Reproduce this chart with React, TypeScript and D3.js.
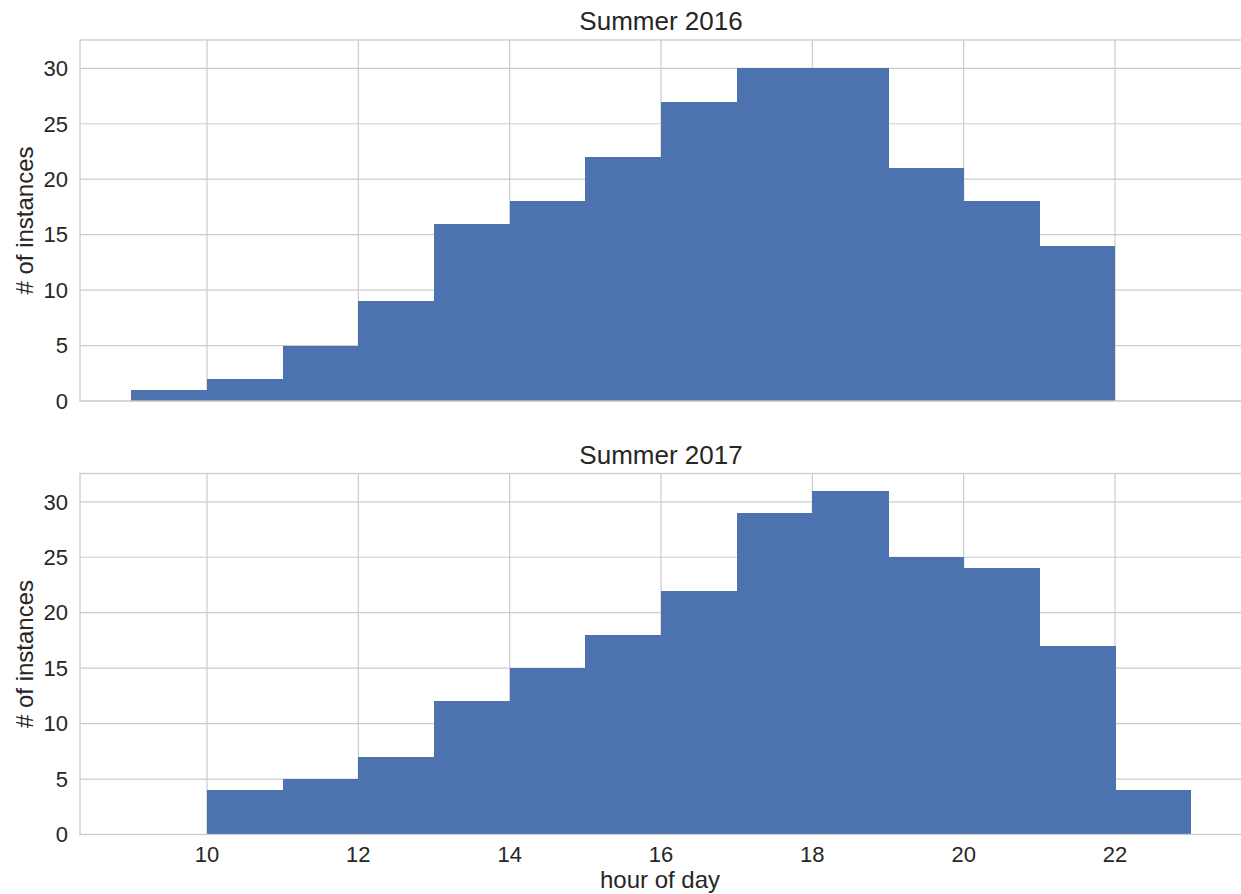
import React from "react";
import * as d3 from "d3";

const binStarts2016 = [9, 10, 11, 12, 13, 14, 15, 16, 17, 18, 19, 20, 21];
const counts2016 = [1, 2, 5, 9, 16, 18, 22, 27, 30, 30, 21, 18, 14];
const binStarts2017 = [10, 11, 12, 13, 14, 15, 16, 17, 18, 19, 20, 21, 22];
const counts2017 = [4, 5, 7, 12, 15, 18, 22, 29, 31, 25, 24, 17, 4];
const panelTitles = ["Summer 2016", "Summer 2017"];
const xTicks = [10, 12, 14, 16, 18, 20, 22];
const yTicks = [0, 5, 10, 15, 20, 25, 30];
const yLabel = "# of instances";
const xLabel = "hour of day";

const W = 1241;
const H = 894;
const left = 80;
const panelTops = [40, 473.5];
const panelH = 361;
const FONT = "'Liberation Sans', Arial, sans-serif";
const TEXT = "#262626";
const GRID = "#cccccc";
const BAR = "#4C72B0";

export default function App() {
  const x = d3.scaleLinear().domain([10, 22]).range([207, 1115]);
  const right = x(23.7);
  const yMax = 31 * 1.05;
  const panels = [
    { starts: binStarts2016, counts: counts2016 },
    { starts: binStarts2017, counts: counts2017 },
  ];
  return (
    <svg width={W} height={H} style={{ position: "absolute", left: 0, top: 0, background: "#fff" }}>
      {panels.map((p, pi) => {
        const top = panelTops[pi];
        const y = d3.scaleLinear().domain([0, yMax]).range([top + panelH, top]);
        return (
          <g key={pi}>
            {xTicks.map((t) => (
              <line key={"gx" + t} x1={x(t)} x2={x(t)} y1={top} y2={top + panelH} stroke={GRID} strokeWidth={1.2} />
            ))}
            {yTicks.map((t) => (
              <line key={"gy" + t} x1={left} x2={right} y1={y(t)} y2={y(t)} stroke={GRID} strokeWidth={1.2} />
            ))}
            <g shapeRendering="crispEdges">
              {p.starts.map((s, i) => (
                <rect
                  key={"b" + i}
                  x={x(s)}
                  width={x(s + 1) - x(s) + (i < p.starts.length - 1 ? 0.6 : 0)}
                  y={y(p.counts[i])}
                  height={y(0) - y(p.counts[i])}
                  fill={BAR}
                />
              ))}
            </g>
            <rect x={left} y={top} width={right - left} height={panelH} fill="none" stroke={GRID} strokeWidth={1.3} />
            {yTicks.map((t) => (
              <text key={"ty" + t} x={68} y={y(t) + 7.8} textAnchor="end" fontFamily={FONT} fontSize={22} fill={TEXT}>
                {t}
              </text>
            ))}
            <text x={661} y={top - 10} textAnchor="middle" fontFamily={FONT} fontSize={26} fill={TEXT}>
              {panelTitles[pi]}
            </text>
            <text
              transform={`translate(33,${top + panelH / 2}) rotate(-90)`}
              textAnchor="middle"
              fontFamily={FONT}
              fontSize={24}
              fill={TEXT}
            >
              {yLabel}
            </text>
            {pi === 1 &&
              xTicks.map((t) => (
                <text key={"tx" + t} x={x(t)} y={top + panelH + 27} textAnchor="middle" fontFamily={FONT} fontSize={22} fill={TEXT}>
                  {t}
                </text>
              ))}
          </g>
        );
      })}
      <text x={660} y={887.5} textAnchor="middle" fontFamily={FONT} fontSize={24} fill={TEXT}>
        {xLabel}
      </text>
    </svg>
  );
}
